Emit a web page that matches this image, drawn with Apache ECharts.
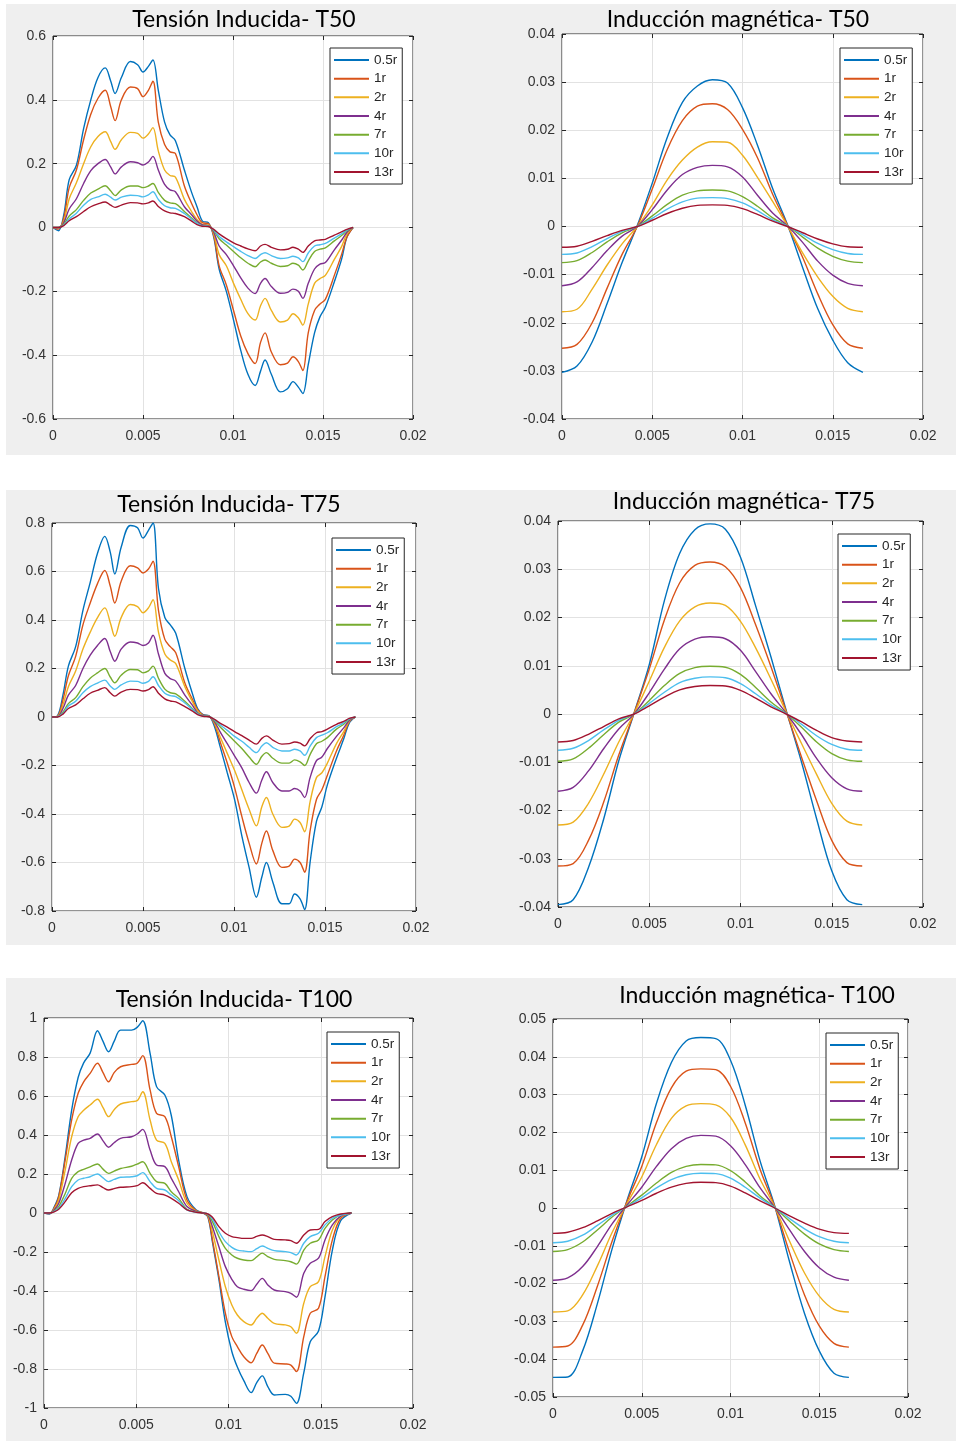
<!DOCTYPE html>
<html>
<head>
<meta charset="utf-8">
<script src="https://cdn.jsdelivr.net/npm/echarts/dist/echarts.min.js"></script>
<style>
html, body { margin: 0; padding: 0; background: #fff; }
#chart { width: 956px; height: 1441px; }
</style>
</head>
<body>
<div id="chart"></div>
<script>
// leyenda comun a los seis graficos
const names = ['0.5r', '1r', '2r', '4r', '7r', '10r', '13r'];
const colors = ['#0072BD', '#D95319', '#EDB120', '#7E2F8E', '#77AC30', '#4DBEEE', '#A2142F'];

// tiempo (s) - tension T50 y T75
const tTensionA = [0, 0.0003, 0.0006, 0.0009, 0.0013, 0.0017, 0.0021, 0.0025, 0.0029, 0.0032,
  0.00345, 0.0038, 0.0043, 0.0047, 0.005, 0.0053, 0.00555, 0.00585, 0.0062, 0.0065,
  0.0068, 0.0073, 0.0077, 0.008, 0.0083,
  0.00863, 0.00893, 0.00923, 0.00963, 0.01003, 0.01043, 0.01083, 0.01123, 0.01153, 0.01178,
  0.01213, 0.01263, 0.01303, 0.01333, 0.01363, 0.01388, 0.01418, 0.01453, 0.01483, 0.01513,
  0.01563, 0.01603, 0.01633, 0.01667];
// tiempo (s) - tension T100
const tTensionB = [0, 0.0003, 0.00055, 0.0008, 0.00115, 0.0015, 0.00185, 0.00215, 0.0025, 0.0029,
  0.0032, 0.0035, 0.0038, 0.00415, 0.00475, 0.00505, 0.00535, 0.00575, 0.0061, 0.00655,
  0.0069, 0.0073, 0.00775, 0.00825,
  0.00863, 0.00888, 0.00913, 0.00948, 0.00983, 0.01018, 0.01048, 0.01083, 0.01123, 0.01153,
  0.01183, 0.01213, 0.01248, 0.01308, 0.01338, 0.01368, 0.01408, 0.01443, 0.01488, 0.01523,
  0.01563, 0.01608, 0.01667];
// tiempo (s) - induccion
const tInduccion = [0, 0.00083, 0.00167, 0.0025, 0.00333, 0.00417, 0.005, 0.00583, 0.00667, 0.0075,
  0.00833, 0.00917, 0.01, 0.01083, 0.01167, 0.0125, 0.01333, 0.01417, 0.015, 0.01583, 0.01667];

// Tension inducida T50
const ten50_r05 = [0, -0.01, 0.04, 0.15, 0.195, 0.31, 0.40, 0.47, 0.50, 0.46, 0.42, 0.47, 0.52, 0.51, 0.487, 0.505, 0.525, 0.43, 0.33, 0.29, 0.272, 0.18, 0.11, 0.065, 0.02,
  0.015, -0.03, -0.13, -0.2, -0.29, -0.385, -0.46, -0.495, -0.45, -0.415, -0.46, -0.515, -0.505, -0.483, -0.5, -0.52, -0.43, -0.33, -0.28, -0.25, -0.17, -0.1, -0.03, 0];
const ten50_r1 = [0, -0.005, 0.03, 0.125, 0.18, 0.275, 0.355, 0.405, 0.43, 0.38, 0.335, 0.40, 0.44, 0.435, 0.41, 0.43, 0.458, 0.33, 0.26, 0.237, 0.232, 0.13, 0.075, 0.04, 0.015,
  0.012, -0.025, -0.12, -0.18, -0.26, -0.34, -0.395, -0.426, -0.36, -0.33, -0.39, -0.43, -0.425, -0.405, -0.42, -0.448, -0.33, -0.26, -0.24, -0.225, -0.15, -0.085, -0.03, 0];
const ten50_r2 = [0, 0, 0.02, 0.09, 0.14, 0.2, 0.253, 0.285, 0.30, 0.27, 0.245, 0.275, 0.298, 0.295, 0.28, 0.293, 0.313, 0.24, 0.18, 0.163, 0.158, 0.088, 0.05, 0.025, 0.01,
  0.008, -0.02, -0.085, -0.12, -0.175, -0.225, -0.27, -0.29, -0.245, -0.222, -0.26, -0.296, -0.29, -0.27, -0.283, -0.306, -0.24, -0.175, -0.16, -0.15, -0.1, -0.06, -0.02, 0];
const ten50_r4 = [0, 0, 0.015, 0.058, 0.09, 0.138, 0.178, 0.2, 0.213, 0.19, 0.168, 0.19, 0.206, 0.203, 0.196, 0.205, 0.223, 0.18, 0.135, 0.118, 0.112, 0.065, 0.04, 0.02, 0.008,
  0.006, -0.015, -0.058, -0.085, -0.12, -0.158, -0.19, -0.207, -0.175, -0.16, -0.185, -0.206, -0.203, -0.193, -0.2, -0.222, -0.175, -0.13, -0.115, -0.11, -0.07, -0.04, -0.015, 0];
const ten50_r7 = [0, 0, 0.01, 0.036, 0.056, 0.085, 0.108, 0.12, 0.131, 0.115, 0.1, 0.118, 0.13, 0.13, 0.125, 0.13, 0.138, 0.11, 0.085, 0.077, 0.075, 0.05, 0.03, 0.014, 0.005,
  0.004, -0.01, -0.035, -0.055, -0.075, -0.095, -0.112, -0.123, -0.108, -0.102, -0.112, -0.122, -0.12, -0.112, -0.118, -0.133, -0.105, -0.075, -0.068, -0.064, -0.042, -0.025, -0.01, 0];
const ten50_r10 = [0, 0, 0.008, 0.027, 0.045, 0.07, 0.088, 0.096, 0.104, 0.095, 0.086, 0.095, 0.101, 0.1, 0.096, 0.102, 0.112, 0.088, 0.068, 0.062, 0.06, 0.044, 0.026, 0.013, 0.005,
  0.004, -0.008, -0.028, -0.045, -0.06, -0.075, -0.088, -0.097, -0.085, -0.079, -0.088, -0.097, -0.095, -0.09, -0.095, -0.107, -0.08, -0.058, -0.054, -0.05, -0.033, -0.02, -0.008, 0];
const ten50_r13 = [0, 0, 0.006, 0.021, 0.034, 0.05, 0.065, 0.074, 0.08, 0.07, 0.063, 0.07, 0.078, 0.077, 0.074, 0.077, 0.083, 0.066, 0.052, 0.046, 0.044, 0.034, 0.02, 0.009, 0.004,
  0.003, -0.006, -0.02, -0.035, -0.048, -0.058, -0.067, -0.073, -0.058, -0.053, -0.062, -0.07, -0.068, -0.062, -0.068, -0.078, -0.058, -0.042, -0.039, -0.037, -0.024, -0.014, -0.006, 0];

// Tension inducida T75
const ten75_r05 = [0, 0.005, 0.09, 0.21, 0.29, 0.44, 0.555, 0.675, 0.745, 0.68, 0.59, 0.70, 0.79, 0.78, 0.738, 0.77, 0.80, 0.53, 0.41, 0.38, 0.345, 0.2, 0.1, 0.035, 0.01,
  0.005, -0.04, -0.12, -0.23, -0.34, -0.49, -0.62, -0.743, -0.66, -0.6, -0.68, -0.77, -0.77, -0.73, -0.75, -0.794, -0.6, -0.43, -0.37, -0.28, -0.17, -0.09, -0.025, 0];
const ten75_r1 = [0, 0.003, 0.07, 0.17, 0.25, 0.38, 0.47, 0.55, 0.604, 0.54, 0.47, 0.56, 0.624, 0.615, 0.594, 0.61, 0.642, 0.44, 0.32, 0.29, 0.265, 0.14, 0.075, 0.03, 0.008,
  0.004, -0.03, -0.1, -0.19, -0.29, -0.41, -0.52, -0.606, -0.52, -0.47, -0.55, -0.62, -0.615, -0.586, -0.6, -0.64, -0.47, -0.34, -0.3, -0.24, -0.14, -0.075, -0.02, 0];
const ten75_r2 = [0, 0.002, 0.05, 0.125, 0.19, 0.28, 0.35, 0.41, 0.45, 0.39, 0.333, 0.41, 0.464, 0.455, 0.43, 0.45, 0.484, 0.35, 0.26, 0.235, 0.22, 0.125, 0.065, 0.025, 0.006,
  0.003, -0.025, -0.08, -0.15, -0.22, -0.3, -0.38, -0.449, -0.37, -0.332, -0.4, -0.455, -0.45, -0.421, -0.435, -0.473, -0.35, -0.25, -0.23, -0.19, -0.11, -0.06, -0.018, 0];
const ten75_r4 = [0, 0.001, 0.035, 0.09, 0.13, 0.2, 0.255, 0.295, 0.324, 0.27, 0.23, 0.28, 0.309, 0.305, 0.295, 0.305, 0.337, 0.26, 0.18, 0.158, 0.148, 0.09, 0.05, 0.018, 0.005,
  0.002, -0.02, -0.06, -0.11, -0.16, -0.21, -0.27, -0.314, -0.26, -0.226, -0.27, -0.305, -0.305, -0.295, -0.305, -0.332, -0.25, -0.18, -0.165, -0.13, -0.08, -0.045, -0.014, 0];
const ten75_r7 = [0, 0.001, 0.02, 0.055, 0.08, 0.125, 0.16, 0.182, 0.2, 0.165, 0.141, 0.172, 0.196, 0.195, 0.182, 0.19, 0.21, 0.16, 0.115, 0.1, 0.095, 0.065, 0.035, 0.015, 0.004,
  0.002, -0.015, -0.04, -0.07, -0.1, -0.13, -0.165, -0.195, -0.162, -0.147, -0.17, -0.19, -0.19, -0.177, -0.185, -0.2, -0.155, -0.11, -0.1, -0.085, -0.05, -0.03, -0.01, 0];
const ten75_r10 = [0, 0.001, 0.015, 0.045, 0.065, 0.1, 0.125, 0.14, 0.152, 0.128, 0.114, 0.132, 0.148, 0.147, 0.139, 0.147, 0.166, 0.13, 0.098, 0.088, 0.084, 0.058, 0.032, 0.013, 0.004,
  0.002, -0.012, -0.032, -0.055, -0.08, -0.1, -0.125, -0.147, -0.12, -0.106, -0.125, -0.14, -0.14, -0.133, -0.14, -0.158, -0.12, -0.085, -0.075, -0.065, -0.04, -0.024, -0.008, 0];
const ten75_r13 = [0, 0, 0.012, 0.035, 0.05, 0.075, 0.098, 0.11, 0.121, 0.1, 0.086, 0.103, 0.114, 0.113, 0.107, 0.113, 0.125, 0.098, 0.075, 0.066, 0.062, 0.043, 0.025, 0.01, 0.003,
  0.001, -0.01, -0.025, -0.042, -0.06, -0.077, -0.095, -0.112, -0.088, -0.078, -0.095, -0.112, -0.11, -0.103, -0.108, -0.119, -0.09, -0.065, -0.06, -0.05, -0.03, -0.018, -0.006, 0];

// Tension inducida T100
const ten100_r05 = [0, -0.005, 0.03, 0.09, 0.29, 0.528, 0.695, 0.77, 0.82, 0.935, 0.88, 0.827, 0.88, 0.938, 0.938, 0.952, 0.986, 0.819, 0.648, 0.605, 0.5, 0.27, 0.084, 0.015,
  0, -0.02, -0.15, -0.34, -0.56, -0.71, -0.79, -0.86, -0.921, -0.87, -0.835, -0.89, -0.933, -0.93, -0.94, -0.976, -0.82, -0.66, -0.605, -0.43, -0.19, -0.04, 0];
const ten100_r1 = [0, -0.003, 0.025, 0.084, 0.272, 0.477, 0.614, 0.673, 0.716, 0.768, 0.72, 0.673, 0.72, 0.75, 0.762, 0.768, 0.807, 0.631, 0.511, 0.494, 0.391, 0.237, 0.067, 0.012,
  0, -0.015, -0.138, -0.326, -0.514, -0.634, -0.685, -0.737, -0.768, -0.72, -0.677, -0.72, -0.77, -0.774, -0.78, -0.813, -0.634, -0.514, -0.489, -0.326, -0.138, -0.027, 0];
const ten100_r2 = [0, 0, 0.02, 0.067, 0.221, 0.391, 0.494, 0.527, 0.554, 0.583, 0.54, 0.494, 0.53, 0.559, 0.571, 0.576, 0.622, 0.477, 0.374, 0.357, 0.263, 0.169, 0.05, 0.01,
  0, -0.012, -0.096, -0.241, -0.378, -0.472, -0.523, -0.557, -0.574, -0.54, -0.514, -0.54, -0.566, -0.574, -0.583, -0.617, -0.463, -0.378, -0.352, -0.224, -0.087, -0.019, 0];
const ten100_r4 = [0, 0, 0.015, 0.05, 0.152, 0.272, 0.357, 0.374, 0.383, 0.405, 0.37, 0.337, 0.36, 0.383, 0.391, 0.405, 0.429, 0.323, 0.246, 0.238, 0.178, 0.109, 0.033, 0.008,
  0, -0.008, -0.07, -0.173, -0.275, -0.34, -0.378, -0.391, -0.398, -0.365, -0.335, -0.369, -0.395, -0.403, -0.412, -0.432, -0.309, -0.258, -0.232, -0.138, -0.061, -0.016, 0];
const ten100_r7 = [0, 0, 0.01, 0.033, 0.1, 0.178, 0.212, 0.224, 0.237, 0.251, 0.225, 0.203, 0.215, 0.228, 0.24, 0.251, 0.263, 0.203, 0.161, 0.152, 0.109, 0.075, 0.019, 0.005,
  0, -0.006, -0.044, -0.121, -0.181, -0.215, -0.232, -0.241, -0.244, -0.225, -0.206, -0.224, -0.238, -0.244, -0.25, -0.262, -0.19, -0.155, -0.138, -0.079, -0.036, -0.01, 0];
const ten100_r10 = [0, 0, 0.008, 0.024, 0.075, 0.135, 0.169, 0.178, 0.186, 0.2, 0.18, 0.161, 0.172, 0.183, 0.186, 0.191, 0.207, 0.161, 0.126, 0.118, 0.092, 0.063, 0.016, 0.004,
  0, -0.005, -0.032, -0.096, -0.147, -0.176, -0.19, -0.195, -0.198, -0.183, -0.169, -0.181, -0.193, -0.198, -0.203, -0.215, -0.155, -0.121, -0.104, -0.061, -0.027, -0.01, 0];
const ten100_r13 = [0, 0, 0.006, 0.019, 0.058, 0.104, 0.126, 0.135, 0.14, 0.144, 0.13, 0.118, 0.125, 0.132, 0.135, 0.14, 0.155, 0.126, 0.101, 0.092, 0.075, 0.05, 0.016, 0.004,
  0, -0.004, -0.022, -0.07, -0.104, -0.121, -0.126, -0.13, -0.13, -0.12, -0.113, -0.121, -0.135, -0.138, -0.142, -0.155, -0.113, -0.087, -0.084, -0.044, -0.019, -0.005, 0];

// Induccion magnetica T50
const ind50_r05 = [-0.0303, -0.029, -0.024, -0.016, -0.0075, 0.0002, 0.009, 0.0185, 0.0258, 0.0292, 0.0305, 0.0298, 0.0247, 0.0169, 0.0079, 0.0003, -0.0085, -0.0171, -0.0236, -0.0283, -0.0303];
const ind50_r1 = [-0.0253, -0.0245, -0.02, -0.0128, -0.0058, 0, 0.0078, 0.016, 0.022, 0.025, 0.0255, 0.0243, 0.0202, 0.0143, 0.0067, 0.0002, -0.0064, -0.014, -0.0204, -0.0244, -0.0253];
const ind50_r2 = [-0.0177, -0.0172, -0.013, -0.008, -0.0036, 0, 0.0045, 0.0097, 0.0138, 0.0165, 0.0176, 0.0175, 0.0148, 0.0102, 0.0052, 0.0001, -0.0055, -0.0105, -0.0145, -0.017, -0.0177];
const ind50_r4 = [-0.0123, -0.0115, -0.0085, -0.005, -0.002, 0, 0.0035, 0.0076, 0.0108, 0.0123, 0.0127, 0.0124, 0.0103, 0.0065, 0.0028, 0.0001, -0.0033, -0.0072, -0.0101, -0.0118, -0.0123];
const ind50_r7 = [-0.0075, -0.0071, -0.0054, -0.0032, -0.0013, 0, 0.0022, 0.0046, 0.0065, 0.0074, 0.0076, 0.0074, 0.0062, 0.0042, 0.0018, 0.0001, -0.0022, -0.0045, -0.0062, -0.0072, -0.0075];
const ind50_r10 = [-0.0058, -0.0055, -0.0042, -0.0025, -0.001, 0, 0.0017, 0.0036, 0.0051, 0.0059, 0.006, 0.0058, 0.0049, 0.0033, 0.0014, 0.0001, -0.0017, -0.0035, -0.0048, -0.0056, -0.0058];
const ind50_r13 = [-0.0043, -0.0041, -0.0031, -0.0019, -0.0008, 0, 0.0013, 0.0027, 0.0038, 0.0044, 0.0045, 0.0044, 0.0037, 0.0025, 0.0011, 0, -0.0013, -0.0026, -0.0036, -0.0042, -0.0043];

// Induccion magnetica T75
const ind75_r05 = [-0.0395, -0.0385, -0.0318, -0.0218, -0.0097, 0.0002, 0.0102, 0.0235, 0.0333, 0.0382, 0.0394, 0.0383, 0.0325, 0.0224, 0.0118, 0.0008, -0.0098, -0.0217, -0.0325, -0.0385, -0.0395];
const ind75_r1 = [-0.0315, -0.031, -0.0262, -0.0183, -0.0085, 0.0002, 0.0093, 0.0195, 0.0272, 0.0308, 0.0315, 0.0305, 0.0262, 0.0185, 0.0098, 0.0006, -0.0088, -0.018, -0.0262, -0.0308, -0.0315];
const ind75_r2 = [-0.023, -0.0224, -0.0185, -0.0125, -0.0058, 0.0001, 0.0068, 0.0138, 0.0193, 0.0222, 0.023, 0.0225, 0.0192, 0.0137, 0.0072, 0.0004, -0.006, -0.0125, -0.0185, -0.0222, -0.023];
const ind75_r4 = [-0.016, -0.0152, -0.0118, -0.0072, -0.0031, 0, 0.0044, 0.0093, 0.0135, 0.0155, 0.016, 0.0156, 0.0132, 0.0088, 0.0042, 0.0002, -0.0042, -0.0092, -0.0132, -0.0155, -0.016];
const ind75_r7 = [-0.0098, -0.0093, -0.0071, -0.0043, -0.0017, 0, 0.0028, 0.0059, 0.0084, 0.0096, 0.0099, 0.0097, 0.0082, 0.0055, 0.0025, 0.0001, -0.0027, -0.0058, -0.0082, -0.0095, -0.0098];
const ind75_r10 = [-0.0075, -0.0071, -0.0055, -0.0033, -0.0013, 0, 0.0022, 0.0045, 0.0065, 0.0074, 0.0077, 0.0075, 0.0063, 0.0042, 0.0019, 0.0001, -0.0021, -0.0045, -0.0063, -0.0073, -0.0075];
const ind75_r13 = [-0.0058, -0.0055, -0.0042, -0.0026, -0.001, 0, 0.0017, 0.0035, 0.005, 0.0057, 0.0059, 0.0058, 0.0049, 0.0033, 0.0015, 0, -0.0016, -0.0034, -0.0049, -0.0056, -0.0058];

// Induccion magnetica T100
const ind100_r05 = [-0.0448, -0.0447, -0.0378, -0.0253, -0.0108, 0.002, 0.0135, 0.0277, 0.0385, 0.0442, 0.0451, 0.0448, 0.0391, 0.0272, 0.0124, 0.0004, -0.0143, -0.0279, -0.0378, -0.0437, -0.0448];
const ind100_r1 = [-0.0368, -0.0365, -0.031, -0.0207, -0.0088, 0.0017, 0.011, 0.0226, 0.0318, 0.0362, 0.0368, 0.0366, 0.0322, 0.0225, 0.0102, 0.0003, -0.0118, -0.023, -0.0312, -0.0358, -0.0368];
const ind100_r2 = [-0.0275, -0.0272, -0.023, -0.0153, -0.0065, 0.0012, 0.0082, 0.0168, 0.0237, 0.027, 0.0276, 0.0273, 0.024, 0.0167, 0.0076, 0.0002, -0.0088, -0.0172, -0.0233, -0.0268, -0.0275];
const ind100_r4 = [-0.0191, -0.0185, -0.0155, -0.0102, -0.0042, 0.0008, 0.0055, 0.011, 0.0157, 0.0184, 0.0192, 0.019, 0.0165, 0.0115, 0.0053, 0.0001, -0.0058, -0.0115, -0.0158, -0.0183, -0.0191];
const ind100_r7 = [-0.0115, -0.011, -0.009, -0.0058, -0.0024, 0.0005, 0.0034, 0.0066, 0.0094, 0.011, 0.0115, 0.0114, 0.0099, 0.0069, 0.0032, 0.0001, -0.0035, -0.0069, -0.0095, -0.011, -0.0115];
const ind100_r10 = [-0.0092, -0.0088, -0.0072, -0.0046, -0.0019, 0.0004, 0.0027, 0.0053, 0.0075, 0.0088, 0.0092, 0.0091, 0.0079, 0.0055, 0.0026, 0.0001, -0.0028, -0.0055, -0.0076, -0.0088, -0.0092];
const ind100_r13 = [-0.0067, -0.0064, -0.0052, -0.0034, -0.0014, 0.0003, 0.002, 0.0039, 0.0055, 0.0065, 0.0068, 0.0067, 0.0058, 0.004, 0.0019, 0, -0.0021, -0.004, -0.0056, -0.0065, -0.0067];

const panels = [
  { title: 'Tensión Inducida- T50', t: tTensionA, ys: [ten50_r05, ten50_r1, ten50_r2, ten50_r4, ten50_r7, ten50_r10, ten50_r13], y: [-0.6, 0.6, 0.2] },
  { title: 'Inducción magnética- T50', t: tInduccion, ys: [ind50_r05, ind50_r1, ind50_r2, ind50_r4, ind50_r7, ind50_r10, ind50_r13], y: [-0.04, 0.04, 0.01] },
  { title: 'Tensión Inducida- T75', t: tTensionA, ys: [ten75_r05, ten75_r1, ten75_r2, ten75_r4, ten75_r7, ten75_r10, ten75_r13], y: [-0.8, 0.8, 0.2] },
  { title: 'Inducción magnética- T75', t: tInduccion, ys: [ind75_r05, ind75_r1, ind75_r2, ind75_r4, ind75_r7, ind75_r10, ind75_r13], y: [-0.04, 0.04, 0.01] },
  { title: 'Tensión Inducida- T100', t: tTensionB, ys: [ten100_r05, ten100_r1, ten100_r2, ten100_r4, ten100_r7, ten100_r10, ten100_r13], y: [-1, 1, 0.2] },
  { title: 'Inducción magnética- T100', t: tInduccion, ys: [ind100_r05, ind100_r1, ind100_r2, ind100_r4, ind100_r7, ind100_r10, ind100_r13], y: [-0.05, 0.05, 0.01] },
];

// posiciones en pixeles: caja del grafico, titulo (centro x, top), leyenda (left, top)
const layout = [
  { box: [53, 36, 360, 383], title: [244, 8], legend: [330, 48] },
  { box: [562, 34, 361, 385], title: [738, 8], legend: [840, 48] },
  { box: [52, 523, 364, 388], title: [229, 493], legend: [332, 538] },
  { box: [558, 521, 365, 386], title: [744, 490], legend: [838, 534] },
  { box: [44, 1018, 369, 390], title: [234, 988], legend: [327, 1032] },
  { box: [553, 1019, 355, 378], title: [757, 984], legend: [826, 1033] },
];

const axisFont = { color: '#333', fontSize: 14, fontFamily: 'Liberation Sans, Arial, sans-serif' };
const tickStyle = { show: true, inside: true, length: 4, lineStyle: { color: '#262626', width: 1 } };

const chart = echarts.init(document.getElementById('chart'));

const grid = layout.map(l => ({
  left: l.box[0], top: l.box[1], width: l.box[2], height: l.box[3],
  show: true, backgroundColor: '#fff', borderColor: '#262626', borderWidth: 1
}));

const xAxis = [], yAxis = [];
panels.forEach((p, i) => {
  xAxis.push({
    type: 'value', gridIndex: i, min: 0, max: 0.02, interval: 0.005, position: 'bottom',
    axisLine: { show: false, onZero: false }, axisTick: tickStyle,
    axisLabel: Object.assign({ margin: 10 }, axisFont),
    splitLine: { show: true, lineStyle: { color: '#e2e2e2', width: 1 } }
  });
  yAxis.push({
    type: 'value', gridIndex: i, min: p.y[0], max: p.y[1], interval: p.y[2], position: 'left',
    axisLine: { show: false, onZero: false }, axisTick: tickStyle,
    axisLabel: Object.assign({ margin: 7 }, axisFont),
    splitLine: { show: true, lineStyle: { color: '#e2e2e2', width: 1 } }
  });
});
// marcas interiores arriba y a la derecha (estilo matlab)
panels.forEach((p, i) => {
  xAxis.push({
    type: 'value', gridIndex: i, min: 0, max: 0.02, interval: 0.005, position: 'top',
    axisLine: { show: false, onZero: false }, axisTick: tickStyle,
    axisLabel: { show: false }, splitLine: { show: false }
  });
  yAxis.push({
    type: 'value', gridIndex: i, min: p.y[0], max: p.y[1], interval: p.y[2], position: 'right',
    axisLine: { show: false, onZero: false }, axisTick: tickStyle,
    axisLabel: { show: false }, splitLine: { show: false }
  });
});

const title = panels.map((p, i) => ({
  text: p.title, left: layout[i].title[0], top: layout[i].title[1], textAlign: 'center', padding: 0,
  textStyle: { fontFamily: 'Lato, Noto Sans, sans-serif', fontSize: 23, fontWeight: 'normal', color: '#000' }
}));

// solo la linea en la leyenda, sin el simbolo
const legend = layout.map(l => ({
  data: names, orient: 'vertical', left: l.legend[0], top: l.legend[1],
  backgroundColor: '#fff', borderColor: '#262626', borderWidth: 1, borderRadius: 0,
  padding: [5, 5, 5, 3], itemWidth: 35, itemHeight: 14, itemGap: 4.67, selectedMode: false,
  itemStyle: { opacity: 0, borderWidth: 0 },
  textStyle: { color: '#262626', fontSize: 13.5, fontFamily: 'Liberation Sans, Arial, sans-serif' }
}));

const series = [];
panels.forEach((p, i) => {
  p.ys.forEach((ys, k) => {
    series.push({
      type: 'line', name: names[k], xAxisIndex: i, yAxisIndex: i,
      data: p.t.map((x, j) => [x, ys[j]]),
      symbol: 'none', showSymbol: false, smooth: 0.35,
      lineStyle: { width: 1.4, color: colors[k] }, itemStyle: { color: colors[k] }
    });
  });
});

// fondo gris de cada fila de figuras
const graphic = [
  { type: 'rect', z: -10, silent: true, shape: { x: 6, y: 4, width: 950, height: 451 }, style: { fill: '#efefef' } },
  { type: 'rect', z: -10, silent: true, shape: { x: 6, y: 490, width: 950, height: 455 }, style: { fill: '#efefef' } },
  { type: 'rect', z: -10, silent: true, shape: { x: 6, y: 978, width: 950, height: 463 }, style: { fill: '#efefef' } },
];

chart.setOption({
  animation: false,
  backgroundColor: '#fff',
  color: colors,
  graphic: graphic,
  title: title,
  legend: legend,
  grid: grid,
  xAxis: xAxis,
  yAxis: yAxis,
  series: series
});
</script>
</body>
</html>
